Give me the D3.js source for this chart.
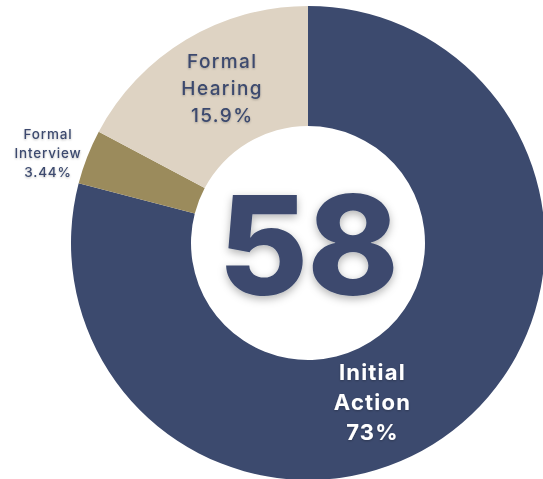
<!DOCTYPE html>
<html lang="en">
<head>
    <meta charset="utf-8">
    <title>Cases by stage</title>
    <script src="https://d3js.org/d3.v7.min.js"></script>
    <style>
    body {
        margin: 0;
        background: #fff;
        font-family: "Inter", "Lato", sans-serif;
    }
    svg { display: block; }
    </style>
</head>
<body>
    <script>

    // data
    var stages = ["Initial Action", "Formal Interview", "Formal Hearing"];
    var shares = [73, 3.44, 15.9];
    var shareLabels = ["73%", "3.44%", "15.9%"];
    var total = 58;

    var colors = ["#3c4a6e", "#9b8b5c", "#ded3c3"];

    var width = 543,
        height = 479;

    var cx = 308, cy = 243;
    var outerR = 237, innerR = 117;

    var svg = d3.select("body")
        .append("svg")
        .attr("width", width)
        .attr("height", height);

    var defs = svg.append("defs");
    var shadow = defs.append("filter")
        .attr("id", "shadow")
        .attr("x", "-30%").attr("y", "-30%")
        .attr("width", "160%").attr("height", "160%");
    shadow.append("feDropShadow")
        .attr("dx", 0).attr("dy", 3)
        .attr("stdDeviation", 4)
        .attr("flood-color", "#000")
        .attr("flood-opacity", 0.3);

    var soft = defs.append("filter")
        .attr("id", "soft")
        .attr("x", "-20%").attr("y", "-20%")
        .attr("width", "140%").attr("height", "140%");
    soft.append("feDropShadow")
        .attr("dx", 0).attr("dy", 1)
        .attr("stdDeviation", 1.2)
        .attr("flood-color", "#000")
        .attr("flood-opacity", 0.25);

    var pie = d3.pie().sort(null).value(function(d) { return d; });
    var arcs = pie(shares);

    var arc = d3.arc()
        .innerRadius(innerR)
        .outerRadius(outerR);

    var g = svg.append("g")
        .attr("transform", "translate(" + cx + "," + cy + ")");

    g.selectAll("path.slice")
        .data(arcs)
        .enter()
        .append("path")
        .attr("class", "slice")
        .attr("fill", function(d, i) { return colors[i]; })
        .attr("d", arc);

    // big number in the hole
    g.append("text")
        .attr("x", 0)
        .attr("y", 52)
        .attr("text-anchor", "middle")
        .attr("font-size", 138)
        .attr("font-weight", 800)
        .attr("letter-spacing", -1)
        .attr("fill", "#3c4a6e")
        .attr("filter", "url(#shadow)")
        .text(total);

    // label placement: angle (deg clockwise from top) and radius, per slice
    var labelPlace = [
        { angle: 158, r: 172, size: 22, weight: 700, ls: 1.2, lh: 30, color: "#fff" },
        { angle: 289, r: 275, size: 13.5, weight: 500, ls: 0.8, lh: 19, color: "#3c4a6e" },
        { angle: 331, r: 177, size: 19, weight: 500, ls: 1.4, lh: 27, color: "#3c4a6e" }
    ];

    g.selectAll("text.label")
        .data(arcs)
        .enter()
        .append("text")
        .attr("class", "label")
        .attr("text-anchor", "middle")
        .attr("filter", "url(#soft)")
        .each(function(d, i) {
            var p = labelPlace[i];
            var a = p.angle * Math.PI / 180;
            var x = p.r * Math.sin(a),
                y = -p.r * Math.cos(a);
            var lines = stages[i].split(" ").concat([shareLabels[i]]);
            var t = d3.select(this)
                .attr("font-size", p.size)
                .attr("font-weight", p.weight)
                .attr("letter-spacing", p.ls)
                .attr("fill", p.color);
            var top = y - (lines.length - 1) * p.lh / 2 + p.size * 0.36;
            lines.forEach(function(line, k) {
                t.append("tspan")
                    .attr("x", x)
                    .attr("y", top + k * p.lh)
                    .text(line);
            });
        });

    </script>
</body>
</html>
